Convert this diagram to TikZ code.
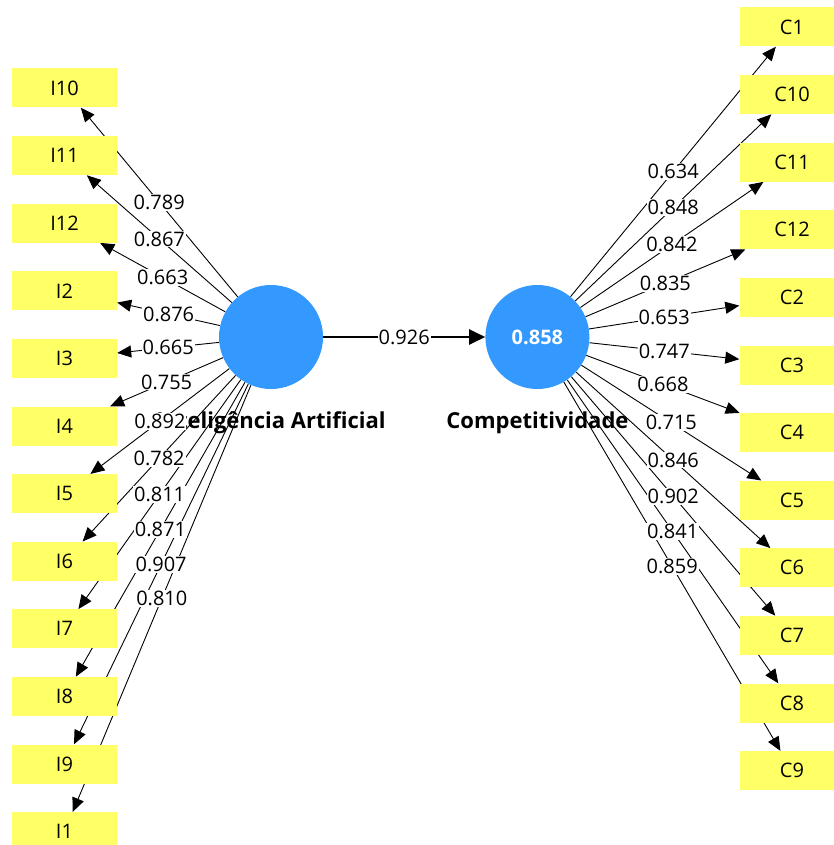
\documentclass[tikz,border=0pt]{standalone}
\usepackage{fontspec}
\setmainfont{Open Sans}
\usetikzlibrary{arrows.meta,positioning,backgrounds}

\definecolor{plsblue}{RGB}{51,153,255}
\definecolor{plsyellow}{RGB}{255,255,102}

\begin{document}
\begin{tikzpicture}
    [
    x=1pt, y=-1pt,
    every node/.style={font=\fontsize{20}{24}\selectfont},
    latent/.style={circle,fill=plsblue,minimum size=104pt,inner sep=0pt,text=white,
      font=\fontsize{20}{24}\selectfont\bfseries},
    indicator/.style={fill=plsyellow,minimum width=105pt,minimum height=39pt,inner sep=0pt},
    lvname/.style={font=\fontsize{22}{26}\selectfont\bfseries,inner sep=0pt},
    loading/.style={-{Triangle[length=14pt,width=12pt]},line width=0.9pt},
    structural/.style={-{Triangle[length=16pt,width=15pt]},line width=2pt},
    weight/.style={fill=white,inner sep=1pt},
    ]
    \useasboundingbox (0,0) rectangle (834,845);

    % latent variables
    \node[latent] (IA) at (271,337) {};
    \node[latent, right=162pt of IA] (Comp) {0.858};

    % indicators
    \foreach \name [count=\i from 0] in {I10,I11,I12,I2,I3,I4,I5,I6,I7,I8,I9,I1}
      \node[indicator] (\name) at (64.5,88+67.6*\i) {\name};
    \foreach \name [count=\i from 0] in {C1,C10,C11,C12,C2,C3,C4,C5,C6,C7,C8,C9}
      \node[indicator] (\name) at (792,27+67.6*\i) {\name};

    \begin{pgfonlayer}{background}
      \node[lvname, below=22pt of IA] {Inteligência Artificial};
      \node[lvname, below=22pt of Comp] {Competitividade};

      % outer loadings
      \foreach \name in {I10,I11,I12,I2,I3,I4,I5,I6,I7,I8,I9,I1}
        \draw[loading] (IA) -- coordinate[midway] (w-\name) (\name);
      \foreach \name in {C1,C10,C11,C12,C2,C3,C4,C5,C6,C7,C8,C9}
        \draw[loading] (Comp) -- coordinate[midway] (w-\name) (\name);
      \draw[structural] (IA) -- node[weight] {0.926} (Comp);

      \foreach \name/\val in {I10/0.789,I11/0.867,I12/0.663,I2/0.876,I3/0.665,I4/0.755,
          I5/0.892,I6/0.782,I7/0.811,I8/0.871,I9/0.907,I1/0.810,
          C1/0.634,C10/0.848,C11/0.842,C12/0.835,C2/0.653,C3/0.747,
          C4/0.668,C5/0.715,C6/0.846,C7/0.902,C8/0.841,C9/0.859}
        \node[weight] at (w-\name) {\val};
    \end{pgfonlayer}
\end{tikzpicture}
\end{document}
